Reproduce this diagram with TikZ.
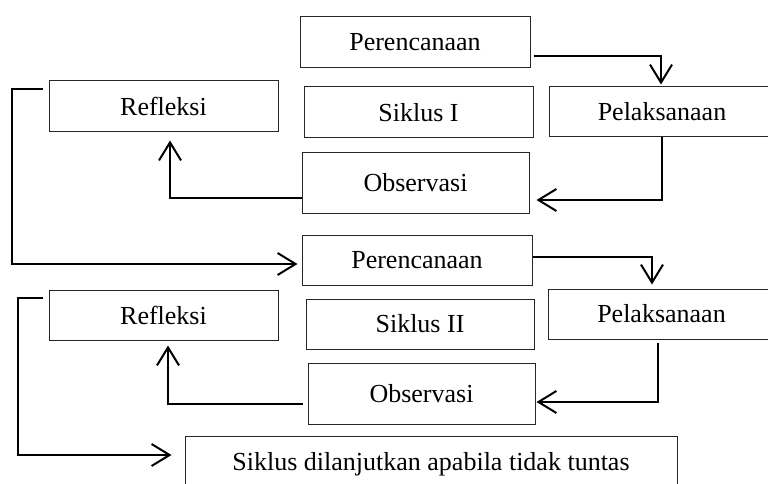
\documentclass[tikz,border=0pt]{standalone}
\usepackage{fontspec}
\setmainfont{Liberation Serif}
\usetikzlibrary{arrows.meta,calc}
\begin{document}
\begin{tikzpicture}[x=1pt,y=-1pt,
 box/.style={draw=black!85, line width=1pt, rectangle, inner sep=0pt, font=\fontsize{26}{30}\selectfont},
 arr/.style={line width=2pt, -{Straight Barb[length=18pt,width=22pt]}},
]
\useasboundingbox (0,0) rectangle (768,484);
\clip (0,0) rectangle (768,484);
\node[box, minimum width=230pt, minimum height=51pt] (P1) at (415,42.5) {Perencanaan};
\node[box, minimum width=229pt, minimum height=51pt] (Ref1) at (163.5,106.5) {Refleksi};
\node[box, minimum width=229pt, minimum height=51pt] (S1) at (418.5,112.5) {Siklus I};
\node[box, minimum width=226pt, minimum height=50pt] (Pel1) at (662,112) {Pelaksanaan};
\node[box, minimum width=227pt, minimum height=61pt] (O1) at (415.5,182.5) {Observasi};
\node[box, minimum width=230pt, minimum height=50pt] (P2) at (417,260) {Perencanaan};
\node[box, minimum width=229pt, minimum height=50pt] (Ref2) at (163.5,315) {Refleksi};
\node[box, minimum width=228pt, minimum height=50pt] (S2) at (420,324) {Siklus II};
\node[box, minimum width=227pt, minimum height=50pt] (Pel2) at (661.5,314) {Pelaksanaan};
\node[box, minimum width=227pt, minimum height=61pt] (O2) at (421.5,393.5) {Observasi};
\node[box, minimum width=492pt, minimum height=56pt] (F) at (431,464) {Siklus dilanjutkan apabila tidak tuntas};

\draw[arr] ([xshift=3pt,yshift=-13.5pt]P1.east) -| ([xshift=-1pt,yshift=2pt]Pel1.north);
\draw[arr] (Pel1.south) |- ([xshift=7pt,yshift=-17.5pt]O1.east);
\draw[arr] ([yshift=-15.5pt]O1.west) -| ([xshift=6.5pt,yshift=-8pt]Ref1.south);
\draw[arr] ([xshift=-6pt,yshift=17.5pt]Ref1.west) -- ++(-31,0) |- ([xshift=-4pt,yshift=-4pt]P2.west);
\draw[arr] ([yshift=3pt]P2.east) -| ([xshift=-9.5pt,yshift=4pt]Pel2.north);
\draw[arr] ([xshift=-3.5pt,yshift=-3pt]Pel2.south) |- ([xshift=1pt,yshift=-8.5pt]O2.east);
\draw[arr] ([xshift=-5pt,yshift=-10.5pt]O2.west) -| ([xshift=4.5pt,yshift=-5pt]Ref2.south);
\draw[arr] ([xshift=-6pt,yshift=17pt]Ref2.west) -- ++(-25,0) |- ([xshift=-13pt,yshift=9pt]F.west);
\end{tikzpicture}
\end{document}
